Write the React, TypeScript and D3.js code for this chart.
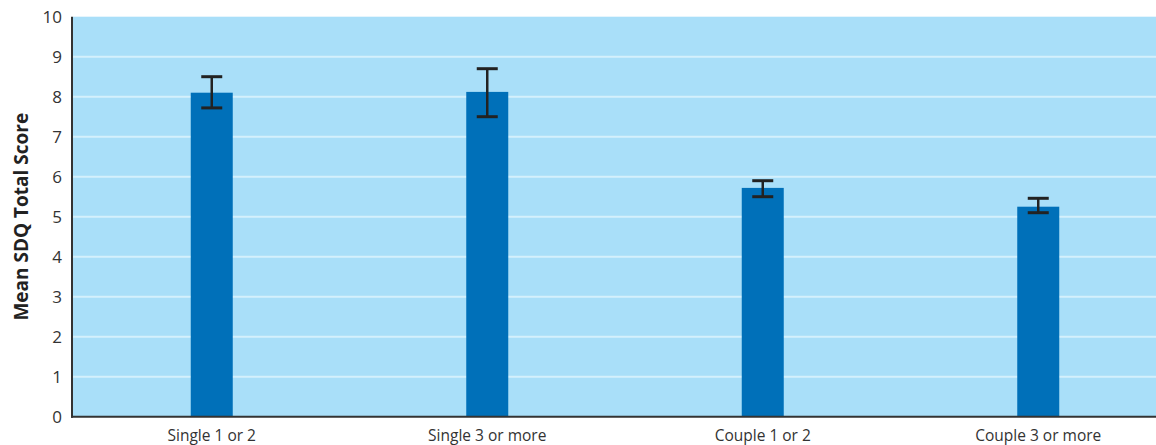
import React from "react";
import * as d3 from "d3";

// Household type categories and their mean SDQ total scores with error ranges
const categories = ["Single 1 or 2", "Single 3 or more", "Couple 1 or 2", "Couple 3 or more"];
const means = [8.1, 8.12, 5.72, 5.25];
const lowerBounds = [7.72, 7.5, 5.5, 5.1];
const upperBounds = [8.5, 8.7, 5.9, 5.46];
const yTicks = [0, 1, 2, 3, 4, 5, 6, 7, 8, 9, 10];

const W = 1156;
const H = 445;
const plotLeft = 73;
const plotRight = 1156;
const plotTop = 16.7;
const plotBottom = 416.7;

export default function App() {
  const y = d3.scaleLinear().domain([0, 10]).range([plotBottom, plotTop]);
  // Band layout spaces categories evenly; the last band runs past the right edge
  const x = d3
    .scaleBand<string>()
    .domain(categories)
    .range([74, 1176])
    .paddingInner(0)
    .paddingOuter(0);
  const barW = 42;
  const capW = 21;
  const font = "'Open Sans', 'Noto Sans', sans-serif";

  return (
    <svg
      width={W}
      height={H}
      style={{ position: "absolute", left: 0, top: 0, display: "block" }}
      fontFamily={font}
    >
      <rect x={plotLeft} y={plotTop} width={plotRight - plotLeft} height={plotBottom - plotTop} fill="#a9dff9" />
      {yTicks
        .filter((t) => t > 0 && t < 10)
        .map((t) => (
          <line
            key={"g" + t}
            x1={plotLeft}
            x2={plotRight}
            y1={y(t)}
            y2={y(t)}
            stroke="#d4f0fc"
            strokeWidth={2}
          />
        ))}
      {categories.map((c, i) => {
        const cx = (x(c) ?? 0) + x.bandwidth() / 2;
        return (
          <g key={c}>
            <rect x={cx - barW / 2} y={y(means[i])} width={barW} height={plotBottom - y(means[i])} fill="#0070b9" />
            <line x1={cx} x2={cx} y1={y(upperBounds[i])} y2={y(lowerBounds[i])} stroke="#222" strokeWidth={2.5} />
            <line x1={cx - capW / 2} x2={cx + capW / 2} y1={y(upperBounds[i])} y2={y(upperBounds[i])} stroke="#222" strokeWidth={3} />
            <line x1={cx - capW / 2} x2={cx + capW / 2} y1={y(lowerBounds[i])} y2={y(lowerBounds[i])} stroke="#222" strokeWidth={3} />
            <text x={cx} y={441} textAnchor="middle" fontSize={15.5} fill="#333">
              {c}
            </text>
          </g>
        );
      })}
      {/* axes */}
      <line x1={plotLeft - 1} x2={plotLeft - 1} y1={plotTop} y2={plotBottom + 1} stroke="#333" strokeWidth={2} />
      <line x1={plotLeft - 2} x2={plotRight} y1={plotBottom} y2={plotBottom} stroke="#333" strokeWidth={2} />
      {yTicks.map((t) => (
        <text key={"t" + t} x={62} y={y(t)} dy="0.35em" textAnchor="end" fontSize={17} fill="#333">
          {t}
        </text>
      ))}
      <text
        transform={`translate(28, ${(plotTop + plotBottom) / 2}) rotate(-90)`}
        textAnchor="middle"
        fontSize={19}
        fontWeight="bold"
        fill="#222"
      >
        Mean SDQ Total Score
      </text>
    </svg>
  );
}
